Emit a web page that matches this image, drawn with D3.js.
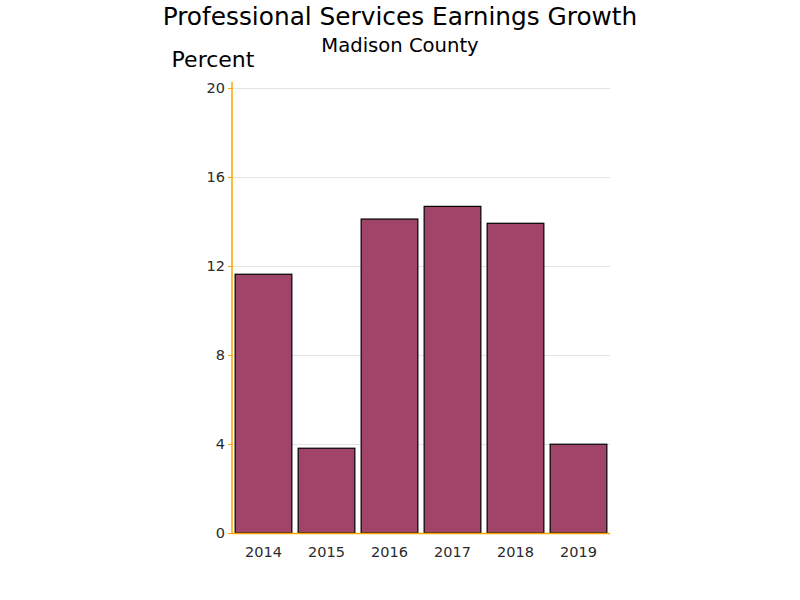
<!DOCTYPE html>
<html><head><meta charset="utf-8">
<script src="https://cdn.jsdelivr.net/npm/d3@7"></script>
<style>body{margin:0;background:#fff}svg{display:block}</style>
</head><body>
<svg id="c" width="800" height="600"></svg>
<script>
const years = ["2014","2015","2016","2017","2018","2019"];
const values = [11.63, 3.81, 14.11, 14.68, 13.92, 3.99];
const yTicks = [0, 4, 8, 12, 16, 20];

(function(){
const svg = d3.select("#c");
const font = "DejaVu Sans, sans-serif";
const pLeft = 232, pRight = 610, pTop = 88, pBottom = 533;

const x = d3.scaleBand().domain(years).range([pLeft, pRight]).paddingInner(0.1).paddingOuter(0.05);
const y = d3.scaleLinear().domain([0, 20]).range([pBottom, pTop]);

// gridlines
svg.append("g").selectAll("line").data(yTicks.filter(d => d > 0)).join("line")
  .attr("x1", pLeft).attr("x2", pRight)
  .attr("y1", d => y(d) + 0.5).attr("y2", d => y(d) + 0.5)
  .attr("stroke", "#e4e4e4").attr("stroke-width", 1);

// bars
svg.append("g").selectAll("rect").data(values).join("rect")
  .attr("x", (d, i) => x(years[i]))
  .attr("y", d => y(d))
  .attr("width", x.bandwidth())
  .attr("height", d => y(0) - y(d))
  .attr("fill", "#A0446A")
  .attr("stroke", "#000").attr("stroke-width", 1.2);

// y axis
const yAxis = d3.axisLeft(y).tickValues(yTicks).tickSize(4).tickPadding(3);
const gy = svg.append("g").attr("transform", `translate(${pLeft},0)`).call(yAxis);
gy.select(".domain").remove();
gy.append("line").attr("x1", 0).attr("x2", 0).attr("y1", y(20) - 6).attr("y2", pBottom + 0.5)
  .attr("stroke", "#FFA500").attr("stroke-width", 1.5);
gy.selectAll(".tick line").attr("stroke", "#FFA500");
gy.selectAll(".tick text").attr("font-family", font).attr("font-size", 14.5).attr("fill", "#2a2a2a");

// x axis
const xAxis = d3.axisBottom(x).tickSize(0).tickPadding(14);
const gx = svg.append("g").attr("transform", `translate(0,${pBottom})`).call(xAxis);
gx.select(".domain").attr("stroke", "#FFA500").attr("stroke-width", 1.5)
  .attr("d", `M${pLeft},0.5H${pRight}`);
gx.selectAll(".tick text").attr("font-family", font).attr("font-size", 14.5).attr("fill", "#2a2a2a");

// titles
svg.append("text").attr("x", 400).attr("y", 25).attr("text-anchor", "middle")
  .attr("font-family", font).attr("font-size", 24.8).attr("fill", "#000")
  .text("Professional Services Earnings Growth");
svg.append("text").attr("x", 400).attr("y", 52).attr("text-anchor", "middle")
  .attr("font-family", font).attr("font-size", 19.6).attr("fill", "#000")
  .text("Madison County");
svg.append("text").attr("x", 213).attr("y", 67).attr("text-anchor", "middle")
  .attr("font-family", font).attr("font-size", 22).attr("fill", "#000")
  .text("Percent");
})();
</script>
</body></html>
